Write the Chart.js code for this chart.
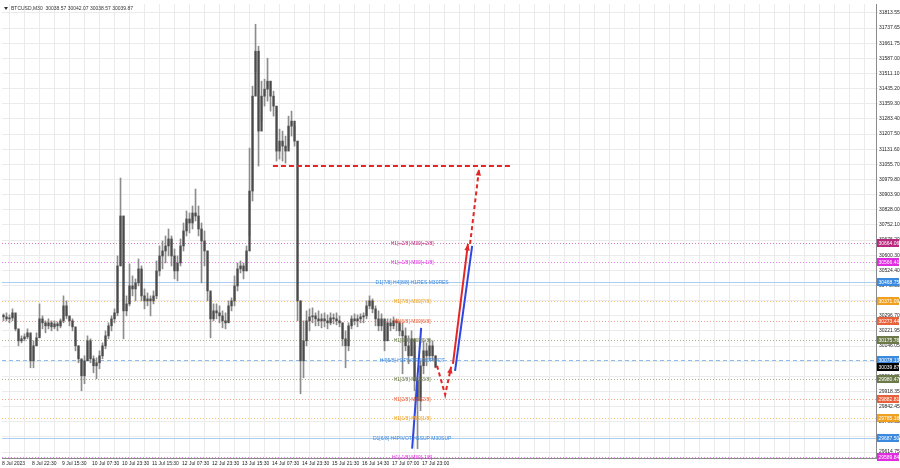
<!DOCTYPE html>
<html>
<head>
<meta charset="utf-8">
<script src="https://cdn.jsdelivr.net/npm/chart.js@4.4.0/dist/chart.umd.min.js"></script>
<style>
  html, body { margin: 0; padding: 0; background: #fff; }
  #wrap { width: 900px; height: 468px; }
</style>
</head>
<body>
<div id="wrap"><canvas id="chart" width="900" height="468"></canvas></div>
<script>
// BTCUSD M30, one sample per ~3 px column of the screenshot
const highs = [
  30307, 30312, 30302, 30332, 30297, 30222, 30197, 30207, 30232, 30197,
  30172, 30212, 30357, 30297, 30272, 30282, 30272, 30272, 30267, 30282,
  30397, 30372, 30292, 30282, 30222, 30147, 30072, 30097, 30197, 30182,
  30097, 30087, 30122, 30162, 30222, 30262, 30297, 30332, 30597, 30987,
  30797, 30397, 30557, 30497, 30482, 30582, 30547, 30432, 30412, 30397,
  30422, 30572, 30647, 30672, 30697, 30732, 30697, 30632, 30597, 30682,
  30762, 30822, 30812, 30847, 30932, 30847, 30762, 30722, 30622, 30397,
  30357, 30357, 30347, 30322, 30312, 30372, 30387, 30497, 30562, 30572,
  30562, 30647, 31137, 31447, 31757, 31647, 31472, 31482, 31587, 31472,
  31422, 31347, 31232, 31222, 31197, 31297, 31322, 31247, 31172, 30372,
  30272, 30322, 30332, 30337, 30312, 30322, 30307, 30312, 30302, 30312,
  30307, 30312, 30297, 30262, 30222, 30262, 30297, 30307, 30302, 30307,
  30312, 30372, 30397, 30382, 30347, 30322, 30307, 30272, 30282, 30282,
  30292, 30282, 30272, 30262, 30237, 30197, 30222, 30147, 29972, 30072,
  30172, 30162, 30182, 30172, 30097,
];
const lows = [
  30272, 30272, 30262, 30272, 30222, 30147, 30162, 30172, 30182, 30037,
  30037, 30147, 30197, 30232, 30212, 30232, 30222, 30232, 30222, 30237,
  30262, 30282, 30247, 30222, 30122, 30062, 29922, 29957, 30072, 30062,
  30012, 29982, 30032, 30082, 30132, 30182, 30222, 30262, 30297, 30547,
  30182, 30297, 30347, 30397, 30372, 30447, 30372, 30332, 30347, 30297,
  30357, 30382, 30497, 30532, 30562, 30597, 30547, 30482, 30472, 30547,
  30622, 30697, 30712, 30732, 30772, 30697, 30462, 30547, 30372, 30187,
  30272, 30282, 30262, 30237, 30232, 30272, 30322, 30347, 30422, 30512,
  30482, 30522, 30697, 30872, 31522, 31047, 31272, 31347, 31372, 31322,
  31297, 31072, 31082, 31072, 31062, 31147, 31197, 31147, 30272, 29907,
  29987, 30147, 30222, 30262, 30247, 30247, 30237, 30242, 30232, 30252,
  30257, 30252, 30242, 30147, 30037, 30122, 30232, 30252, 30242, 30262,
  30262, 30282, 30332, 30312, 30247, 30222, 30222, 30122, 30172, 30222,
  30232, 30222, 30197, 30007, 30122, 30057, 30097, 29922, 29632, 29822,
  30007, 30047, 30072, 30072, 30037,
];
const closes = [
  30292, 30282, 30287, 30312, 30232, 30172, 30182, 30192, 30212, 30072,
  30147, 30187, 30282, 30262, 30247, 30262, 30242, 30257, 30247, 30272,
  30347, 30297, 30272, 30242, 30147, 30082, 29997, 30072, 30172, 30082,
  30047, 30062, 30097, 30147, 30197, 30247, 30282, 30312, 30547, 30797,
  30322, 30357, 30447, 30432, 30462, 30532, 30397, 30372, 30382, 30372,
  30397, 30522, 30597, 30622, 30647, 30682, 30597, 30522, 30562, 30647,
  30722, 30782, 30762, 30812, 30797, 30732, 30672, 30622, 30422, 30282,
  30322, 30312, 30297, 30272, 30262, 30347, 30372, 30447, 30532, 30547,
  30522, 30622, 30922, 31397, 31622, 31222, 31397, 31432, 31472, 31397,
  31347, 31122, 31172, 31147, 31122, 31247, 31272, 31172, 30372, 30072,
  30172, 30272, 30292, 30297, 30282, 30272, 30282, 30272, 30262, 30287,
  30282, 30272, 30262, 30182, 30147, 30247, 30282, 30272, 30282, 30292,
  30297, 30347, 30372, 30332, 30282, 30247, 30282, 30172, 30262, 30247,
  30272, 30262, 30222, 30197, 30147, 30097, 30182, 29972, 29872, 30047,
  30122, 30097, 30147, 30097, 30040,
];
const firstOpen = 30300;

const priceTicks = [
  31813.55, 31737.65, 31661.75, 31587.00, 31511.10, 31435.20, 31359.30, 31283.40,
  31207.50, 31131.60, 31055.70, 30979.80, 30903.90, 30828.00, 30752.10, 30676.20,
  30600.30, 30524.40, 30448.50, 30372.60, 30296.70, 30221.95, 30146.05, 30070.15,
  29994.25, 29918.35, 29842.45, 29766.55, 29690.65, 29614.75,
];
const timeLabels = [
  '8 Jul 2023', '8 Jul 22:30', '9 Jul 15:30', '10 Jul 07:30', '10 Jul 23:30',
  '11 Jul 15:30', '12 Jul 07:30', '12 Jul 23:30', '13 Jul 15:30', '14 Jul 07:30',
  '14 Jul 23:30', '15 Jul 21:30', '16 Jul 14:30', '17 Jul 07:00', '17 Jul 23:00',
];

// Murrey math levels
const levelValues = [
  30664.06, 30566.41, 30468.75, 30371.09, 30273.44, 30175.78,
  30078.13, 29980.47, 29882.81, 29785.16, 29687.50, 29589.84,
];
const levelNames = [
  'H1[+2/8] M30[+2/8]', 'H1[+1/8] M30[+1/8]', 'D1[7/8] H4[8/8] H1RES M30RES',
  'H1[7/8] M30[7/8]', 'H1[6/8] M30[6/8]', 'H1[5/8] M30[5/8]',
  'H4[5/8] H1PIVOT M30PIVOT', 'H1[3/8] M30[3/8]', 'H1[2/8] M30[2/8]',
  'H1[1/8] M30[1/8]', 'D1[6/8] H4PIVOT H1SUP M30SUP', 'H1[-1/8] M30[-1/8]',
];
const currentPrice = 30039.87;

// hand drawn forecast (x = sample index, y = price)
const blueSwing = [{ x: 139.2, y: 30237 }, { x: 136.2, y: 29632 }];
const redDip = [{ x: 144.5, y: 30047 }, { x: 147.2, y: 29902 }, { x: 149.2, y: 30042 }];
const redRally = [{ x: 149.8, y: 30057 }, { x: 154.8, y: 30657 }];
const blueRally = [{ x: 150.5, y: 30022 }, { x: 156.2, y: 30647 }];
const redTarget = [{ x: 155.5, y: 30657 }, { x: 158.5, y: 31032 }];
const targetLine = [{ x: 89.8, y: 31047 }, { x: 169.5, y: 31047 }];

const FONT = 'Liberation Sans, Arial, sans-serif';
const RED = '#e32626';
const BLUE = '#2f47e0';

// colour for a level, by its name
const levelColor = (name) => {
  if (name.startsWith('D1') || name.startsWith('H4')) return '#3a8ae0';
  if (name.includes('+2/8')) return '#b8287c';
  if (name.includes('+1/8') || name.includes('-1/8')) return '#e02ce0';
  if (name.includes('[7/8]') || name.includes('[1/8]')) return '#f0a020';
  if (name.includes('[6/8]') || name.includes('[2/8]')) return '#e8603a';
  return '#6c7a4a';
};

const opens = closes.map((c, i) => (i === 0 ? firstOpen : closes[i - 1]));
const xMin = -0.5;
const xMax = 290.8;

const mt4Overlay = {
  id: 'mt4Overlay',
  beforeDatasetsDraw(chart) {
    const { ctx, chartArea: a } = chart;
    const { y } = chart.scales;
    ctx.save();
    ctx.beginPath();
    ctx.rect(a.left, a.top, a.right - a.left, a.bottom - a.top);
    ctx.clip();
    levelNames.forEach((name, i) => {
      const py = Math.round(y.getPixelForValue(levelValues[i])) + 0.5;
      if (name.startsWith('D1')) {
        ctx.strokeStyle = '#aacdf0';
        ctx.setLineDash([]);
      } else if (name.startsWith('H4')) {
        ctx.strokeStyle = '#8fbbea';
        ctx.setLineDash([4, 3]);
      } else {
        ctx.strokeStyle = levelColor(name);
        ctx.globalAlpha = 0.6;
        ctx.setLineDash([1, 2]);
      }
      ctx.lineWidth = 1;
      ctx.beginPath();
      ctx.moveTo(a.left, py);
      ctx.lineTo(a.right, py);
      ctx.stroke();
      ctx.globalAlpha = 1;
    });
    ctx.restore();
  },
  afterDatasetsDraw(chart) {
    const { ctx } = chart;
    const { x, y } = chart.scales;
    ctx.save();
    // level captions
    ctx.font = `5px ${FONT}`;
    ctx.textAlign = 'center';
    ctx.textBaseline = 'middle';
    const lx = x.getPixelForValue(136.2);
    levelNames.forEach((name, i) => {
      ctx.fillStyle = levelColor(name);
      ctx.fillText(name, lx, y.getPixelForValue(levelValues[i]) + 1);
    });
    // arrow heads
    chart.data.datasets.forEach((ds, di) => {
      if (!ds.arrowHead) return;
      const pts = chart.getDatasetMeta(di).data;
      const p1 = pts[pts.length - 2];
      const p2 = pts[pts.length - 1];
      const ang = Math.atan2(p2.y - p1.y, p2.x - p1.x);
      const len = 7;
      ctx.fillStyle = ds.borderColor;
      ctx.beginPath();
      ctx.moveTo(p2.x, p2.y);
      ctx.lineTo(p2.x - len * Math.cos(ang - 0.4), p2.y - len * Math.sin(ang - 0.4));
      ctx.lineTo(p2.x - len * Math.cos(ang + 0.4), p2.y - len * Math.sin(ang + 0.4));
      ctx.closePath();
      ctx.fill();
    });
    ctx.restore();
  },
  afterDraw(chart) {
    const { ctx, chartArea: a } = chart;
    const { y } = chart.scales;
    ctx.save();
    // price tags on the right scale
    ctx.font = `5px ${FONT}`;
    ctx.textAlign = 'left';
    ctx.textBaseline = 'middle';
    const tags = levelValues.map((v, i) => [v, levelColor(levelNames[i])]);
    tags.push([currentPrice, '#000000']);
    tags.forEach(([v, col]) => {
      const py = Math.round(y.getPixelForValue(v));
      ctx.fillStyle = col;
      ctx.fillRect(a.right + 1, py - 4, 22, 8);
      ctx.fillStyle = '#ffffff';
      ctx.fillText(v.toFixed(2), a.right + 2.5, py + 0.5);
    });
    // header
    ctx.fillStyle = '#333';
    ctx.beginPath();
    ctx.moveTo(a.left + 2, a.top + 3);
    ctx.lineTo(a.left + 6, a.top + 3);
    ctx.lineTo(a.left + 4, a.top + 6);
    ctx.closePath();
    ctx.fill();
    ctx.font = `5px ${FONT}`;
    ctx.fillText('BTCUSD,M30  30038.57 30042.07 30038.57 30039.87', a.left + 9, a.top + 4.5);
    ctx.restore();
  },
};

const lineSet = (data, color, dash, arrow) => ({
  type: 'line',
  data,
  borderColor: color,
  backgroundColor: color,
  borderWidth: 2,
  borderDash: dash,
  pointRadius: 0,
  fill: false,
  arrowHead: arrow,
  order: 0,
});

// eslint-disable-next-line no-undef
new Chart(document.getElementById('chart'), {
  type: 'bar',
  data: {
    datasets: [
      {
        data: highs.map((h, i) => ({ x: i, y: [lows[i], h] })),
        backgroundColor: '#8c8c8c',
        barThickness: 1,
        grouped: false,
        order: 2,
      },
      {
        data: closes.map((c, i) => ({ x: i, y: [opens[i], c] })),
        backgroundColor: '#4a4a4a',
        barThickness: 1.6,
        minBarLength: 1,
        grouped: false,
        order: 1,
      },
      lineSet(targetLine, RED, [5, 3], false),
      lineSet(blueSwing, BLUE, [], false),
      lineSet(redDip, RED, [4, 3], true),
      lineSet(redRally, RED, [], true),
      lineSet(blueRally, BLUE, [], false),
      lineSet(redTarget, RED, [4, 3], true),
    ],
  },
  options: {
    responsive: false,
    animation: false,
    devicePixelRatio: 1,
    layout: { padding: { top: 2, left: 2, right: 0, bottom: 0 } },
    plugins: { legend: { display: false }, tooltip: { enabled: false } },
    scales: {
      x: {
        type: 'linear',
        min: xMin,
        max: xMax,
        offset: false,
        afterBuildTicks: (s) => {
          const t = [];
          for (let v = xMin; v <= xMax; v += 5) t.push({ value: v });
          // eslint-disable-next-line no-param-reassign
          s.ticks = t;
        },
        afterFit: (s) => {
          // eslint-disable-next-line no-param-reassign
          s.height = 10;
        },
        ticks: {
          autoSkip: false,
          maxRotation: 0,
          align: 'start',
          padding: 1,
          color: '#222',
          font: { size: 5, family: FONT },
          callback: (v, idx) => (idx % 2 === 0 && idx / 2 < timeLabels.length ? timeLabels[idx / 2] : ''),
        },
        grid: { color: '#ebebeb', tickLength: 2 },
        border: { color: '#8a8a8a' },
      },
      y: {
        position: 'right',
        min: 29585.3,
        max: 31858.4,
        afterBuildTicks: (s) => {
          // eslint-disable-next-line no-param-reassign
          s.ticks = priceTicks.map((v) => ({ value: v }));
        },
        afterFit: (s) => {
          // eslint-disable-next-line no-param-reassign
          s.width = 24;
        },
        ticks: {
          autoSkip: false,
          padding: 1,
          color: '#222',
          font: { size: 5, family: FONT },
          callback: (v) => v.toFixed(2),
        },
        grid: { color: '#ebebeb', tickLength: 2 },
        border: { color: '#8a8a8a' },
      },
    },
  },
  plugins: [mt4Overlay],
});
</script>
</body>
</html>
